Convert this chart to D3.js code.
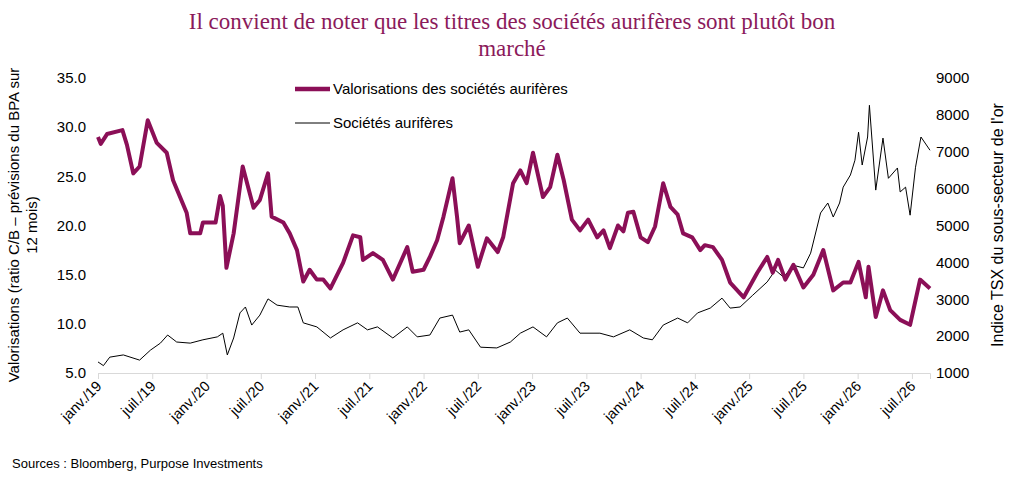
<!DOCTYPE html><html><head><meta charset="utf-8"><script src="https://cdn.jsdelivr.net/npm/d3@7"></script>
<style>body{margin:0;background:#fff}</style></head><body><svg id="c" width="1024" height="484"></svg><script>
const tickLabels=["janv./19","juil./19","janv./20","juil./20","janv./21","juil./21","janv./22","juil./22","janv./23","juil./23","janv./24","juil./24","janv./25","juil./25","janv./26","juil./26"];
const valMonths=[0,0.3,1,2.7,3.2,3.9,4.6,5.5,6.5,7.6,8.3,9.8,10.2,11.3,11.6,13,13.5,13.8,14.2,15,16,17.2,17.9,18.8,19.2,20.5,21.2,22,22.7,23.4,24.2,24.9,25.7,27.1,28.2,29,29.3,30.4,31.5,32.6,34.2,34.8,36,36.7,37.5,38.2,39.2,39.7,40,41,42,43,44.2,44.8,45.9,46.7,47.4,48.1,49.2,50,50.8,51.5,52.4,53.3,54.2,55.2,55.9,56.6,57.5,58.1,58.6,59.2,60,60.8,61.6,62.5,63.3,64.1,64.7,65.7,66.6,67.1,68,69,69.9,71.4,72.9,74,74.6,75.2,76,76.9,78,79.1,80.2,81.3,82.4,83.2,84.1,84.9,85.2,86,86.8,87.6,88.7,89.8,90.4,90.9,92];
const valuation=[29,28.3,29.3,29.7,28.2,25.3,26,30.7,28.4,27.4,24.6,21.3,19.2,19.2,20.3,20.3,23,22,15.7,19.2,26,21.8,22.6,25.3,20.9,20.3,19.2,17.5,14.3,15.5,14.5,14.5,13.6,16.2,19,18.8,16.5,17.2,16.5,14.5,17.8,15.3,15.5,16.8,18.5,20.9,24.8,20.9,18.2,20,15.8,18.7,17.3,18.8,24.3,25.6,24.3,27.4,22.9,23.9,27.2,24.6,20.6,19.5,20.6,18.8,19.5,17.7,20,19.4,21.3,21.4,18.8,18.3,19.9,24.3,21.9,21.1,19.2,18.8,17.5,18,17.8,16.5,14.2,12.7,15.2,16.8,15.2,16.5,14.5,16,13.7,15,17.5,13.4,14.2,14.2,16.3,12.7,15.8,10.7,13.4,11.4,10.4,9.9,12.4,14.5,13.6];
const goldMonths=[0,0.6,1.3,2.8,4.6,5.8,6.9,7.7,8.7,10.2,11.6,13.2,13.8,14.3,15,15.7,16.3,17,17.9,18.8,19.8,21.2,22.1,22.7,24.2,25.7,27.1,28.7,29.8,30.9,32.6,34.2,35.3,36.7,37.8,39.2,40,41,42.3,44.1,45.6,46.7,48.1,49.6,50.8,51.9,53.3,55.5,57,58.8,60.3,61.3,62.5,64.1,65.2,66.3,67.7,69,69.9,71,72.4,74,74.9,75.8,76.9,78,78.8,79.9,80.7,81.3,82,82.4,83.2,83.7,84.1,84.5,85.1,85.3,86,86.8,87.4,88.4,88.7,89.3,89.8,90.4,91,92];
const gold=[1300,1200,1430,1490,1350,1620,1810,2030,1840,1810,1900,1980,2080,1490,1950,2630,2790,2300,2570,3010,2840,2790,2790,2360,2250,1950,2170,2360,2170,2250,1950,2250,1980,2030,2490,2570,2110,2170,1700,1680,1840,2080,2250,1980,2360,2490,2080,2080,1980,2170,1950,1900,2300,2490,2360,2630,2760,3030,2760,2790,3110,3470,3790,3600,3920,3850,4250,5340,5610,5230,5610,6040,6370,6770,7530,6640,7400,8260,5960,7370,6280,6560,5910,6040,5280,6580,7400,7040];
const svg=d3.select("#c"),L=98,R=930,T=78,B=373,F="Liberation Sans, Arial, sans-serif";
const x=d3.scaleLinear().domain([0,92]).range([L,R]);
const yl=d3.scaleLinear().domain([5,35]).range([B,T]);
const yr=d3.scaleLinear().domain([1000,9000]).range([B,T]);
svg.append("text").attr("x",512).attr("y",29).attr("text-anchor","middle").attr("fill","#8b1a5b").attr("font-family","Liberation Serif, Times New Roman, serif").attr("font-size",23).text("Il convient de noter que les titres des sociétés aurifères sont plutôt bon");
svg.append("text").attr("x",512).attr("y",56).attr("text-anchor","middle").attr("fill","#8b1a5b").attr("font-family","Liberation Serif, Times New Roman, serif").attr("font-size",23).text("marché");
const ax=svg.append("g").attr("transform",`translate(0,${B})`).call(d3.axisBottom(x).tickValues(d3.range(0,92,6)).tickSize(6).tickFormat(""));
ax.selectAll("path,line").attr("stroke","#d9d9d9");
ax.selectAll(".tick").append("text").attr("transform","translate(4,14) rotate(-45)").attr("text-anchor","end").attr("fill","#000").attr("font-family",F).attr("font-size",14.5).text((d,i)=>tickLabels[i]);
const gl=svg.append("g").attr("transform",`translate(${L},0)`).call(d3.axisLeft(yl).tickValues(d3.range(5,36,5)).tickSize(0).tickPadding(12).tickFormat(d3.format(".1f")));
gl.select("path").remove();gl.selectAll("text").attr("font-family",F).attr("font-size",15).attr("fill","#000");
const gr=svg.append("g").attr("transform",`translate(${R},0)`).call(d3.axisRight(yr).tickValues(d3.range(1000,9001,1000)).tickSize(0).tickPadding(6).tickFormat(d3.format("d")));
gr.select("path").remove();gr.selectAll("text").attr("font-family",F).attr("font-size",15).attr("fill","#000");
const lt=svg.append("text").attr("transform","translate(19,225) rotate(-90)").attr("text-anchor","middle").attr("font-family",F).attr("font-size",15);
lt.append("tspan").attr("x",0).attr("dy",0).text("Valorisations (ratio C/B – prévisions du BPA sur");
lt.append("tspan").attr("x",0).attr("dy",18).text("12 mois)");
svg.append("text").attr("transform","translate(1003,225) rotate(-90)").attr("text-anchor","middle").attr("font-family",F).attr("font-size",16).text("Indice TSX du sous-secteur de l'or");
svg.append("path").datum(goldMonths.map((m,i)=>[m,gold[i]])).attr("fill","none").attr("stroke","#000").attr("stroke-width",1).attr("d",d3.line().x(d=>x(d[0])).y(d=>yr(d[1])));
svg.append("path").datum(valMonths.map((m,i)=>[m,valuation[i]])).attr("fill","none").attr("stroke","#8b0f57").attr("stroke-width",4).attr("stroke-linejoin","round").attr("d",d3.line().x(d=>x(d[0])).y(d=>yl(d[1])));
svg.append("line").attr("x1",295).attr("x2",330).attr("y1",89).attr("y2",89).attr("stroke","#8b0f57").attr("stroke-width",4.5);
svg.append("text").attr("x",333).attr("y",94).attr("font-family",F).attr("font-size",15).text("Valorisations des sociétés aurifères");
svg.append("line").attr("x1",295).attr("x2",330).attr("y1",123).attr("y2",123).attr("stroke","#000").attr("stroke-width",1);
svg.append("text").attr("x",333).attr("y",128).attr("font-family",F).attr("font-size",15).text("Sociétés aurifères");
svg.append("text").attr("x",12).attr("y",468).attr("font-family",F).attr("font-size",13).text("Sources : Bloomberg, Purpose Investments");
</script></body></html>
